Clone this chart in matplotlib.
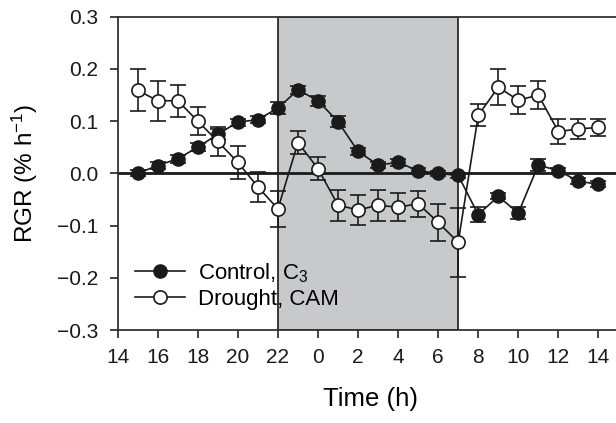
import numpy as np
import matplotlib
matplotlib.use("Agg")
import matplotlib.pyplot as plt

plt.rcParams['font.family'] = ['Liberation Sans', 'DejaVu Sans']
plt.rcParams['mathtext.fontset'] = 'custom'
plt.rcParams['mathtext.rm'] = 'Liberation Sans'
plt.rcParams['mathtext.it'] = 'Liberation Sans:italic'
plt.rcParams['axes.unicode_minus'] = True

# hours since 0:00 of day 1 (15 = 15:00, 24 = midnight, 38 = 14:00 next day)
hours = np.arange(15, 39)

control = [0.0, 0.015, 0.028, 0.05, 0.075, 0.098, 0.103, 0.125, 0.16, 0.139, 0.099, 0.042,
           0.016, 0.021, 0.005, 0.0, -0.004, -0.079, -0.044, -0.076, 0.016, 0.005, -0.015, -0.021]
control_err = [0.006, 0.006, 0.008, 0.008, 0.01, 0.007, 0.006, 0.012, 0.008, 0.01, 0.01, 0.006,
               0.006, 0.006, 0.005, 0.005, 0.005, 0.015, 0.006, 0.012, 0.012, 0.006, 0.006, 0.006]

drought = [0.159, 0.139, 0.139, 0.1, 0.061, 0.021, -0.026, -0.068, 0.059, 0.009, -0.061, -0.07,
           -0.061, -0.065, -0.058, -0.094, -0.132, 0.111, 0.165, 0.14, 0.15, 0.08, 0.085, 0.088]
drought_err = [0.04, 0.038, 0.031, 0.027, 0.028, 0.031, 0.029, 0.035, 0.022, 0.022, 0.03, 0.028,
               0.03, 0.027, 0.025, 0.035, 0.066, 0.021, 0.034, 0.027, 0.026, 0.024, 0.019, 0.017]

tick_pos = np.arange(14, 39, 2)
tick_labels = [str(int(h % 24)) for h in tick_pos]
ytick_pos = [-0.3, -0.2, -0.1, 0.0, 0.1, 0.2, 0.3]

dark_start, dark_end = 22, 31

fig = plt.figure(figsize=(6.16, 4.23), dpi=100)
# axes in pixel terms: left 117.7, bottom 330, top 16.7, running off the right edge
ax = fig.add_axes([117.7 / 616, 93 / 423, 505 / 616, 313.3 / 423])

ax.axvspan(dark_start, dark_end, facecolor='#c8c9cb', edgecolor='#2a2a2a', lw=1.3, zorder=0)
ax.axhline(0, color='#1a1a1a', lw=2.0, zorder=1)

ax.errorbar(hours, control, yerr=control_err, fmt='-o', color='#1a1a1a', mfc='#1a1a1a',
            mec='#1a1a1a', ms=9.5, lw=1.2, elinewidth=1.2, capsize=6, capthick=1.2,
            zorder=3, label='Control, C$_3$')
ax.errorbar(hours, drought, yerr=drought_err, fmt='-o', color='#1a1a1a', mfc='white',
            mec='#1a1a1a', ms=9.5, mew=1.2, lw=1.2, elinewidth=1.2, capsize=6, capthick=1.2,
            zorder=4, label='Drought, CAM')

ax.set_xlim(14, 14 + 505 / 20.03)
ax.set_ylim(-0.3, 0.3)
ax.set_xticks(tick_pos)
ax.set_xticklabels(tick_labels)
ax.set_yticks(ytick_pos)
ax.set_yticklabels([f"{v:.1f}".replace('-', '\u2212') for v in ytick_pos])
ax.tick_params(direction='out', length=6, width=1.3, labelsize=15, colors='#333333',
               labelcolor='#1a1a1a')
ax.tick_params(axis='x', pad=7)
ax.tick_params(axis='y', pad=8)

for s in ax.spines.values():
    s.set_linewidth(1.3)
    s.set_color('#333333')
ax.spines['right'].set_visible(False)

ax.set_xlabel('Time (h)', fontsize=18.5, labelpad=14)
ax.set_ylabel('RGR (% h$^{\u22121}$)', fontsize=17.5, labelpad=12)

handles, labels = ax.get_legend_handles_labels()
handles = [h[0] for h in handles]
ax.legend(handles, labels, loc='center left', bbox_to_anchor=(17 / 505, 0.142),
          frameon=False, fontsize=16, handlelength=2.25, handletextpad=0.6,
          labelspacing=0.2, borderpad=0, borderaxespad=0)

fig.savefig('out.png', dpi=100)
